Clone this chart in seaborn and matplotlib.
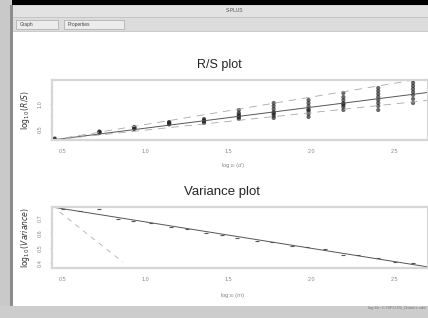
import numpy as np
import pandas as pd
import seaborn as sns
import matplotlib.pyplot as plt
from matplotlib.patches import Rectangle

# R/S plot: log10(d) positions and the R/S values at each block size
rs_x = [0.45, 0.72, 0.93, 1.14, 1.35, 1.56, 1.77, 1.98, 2.19, 2.40, 2.61]
rs_y = [
    [0.29, 0.30, 0.31],
    [0.42, 0.44, 0.45, 0.44],
    [0.50, 0.52, 0.54, 0.53, 0.51],
    [0.59, 0.61, 0.63, 0.64, 0.62],
    [0.62, 0.64, 0.66, 0.68, 0.70, 0.65],
    [0.70, 0.73, 0.76, 0.79, 0.82, 0.88, 0.75],
    [0.72, 0.76, 0.80, 0.84, 0.90, 0.96, 1.02, 0.82],
    [0.74, 0.80, 0.85, 0.90, 0.96, 1.02, 1.08, 0.88],
    [0.88, 0.94, 0.98, 1.02, 1.08, 1.14, 1.22, 1.00],
    [0.88, 0.96, 1.02, 1.08, 1.14, 1.20, 1.26, 1.32],
    [1.02, 1.10, 1.18, 1.24, 1.30, 1.36, 1.42, 1.48],
]
rs_origin = (0.434, 0.28)
rs_fit_slope = 0.42
rs_ref_slopes = [0.55, 0.35]

# Variance plot
var_x = [0.50, 0.60, 0.72, 0.83, 0.92, 1.03, 1.15, 1.25, 1.36, 1.46, 1.55,
         1.67, 1.76, 1.88, 1.97, 2.08, 2.19, 2.28, 2.40, 2.50, 2.61]
var_y = [0.760, 0.747, 0.760, 0.693, 0.680, 0.667, 0.640, 0.627, 0.600, 0.587, 0.567,
         0.547, 0.540, 0.513, 0.507, 0.493, 0.453, 0.453, 0.433, 0.407, 0.400]
var_origin = (0.434, 0.773)
var_fit_slope = -0.176
var_ref_start = (0.48, 0.74)
var_ref_end_x = 0.86
var_ref_slope = -0.877

xticks = [0.5, 1.0, 1.5, 2.0, 2.5]
xlabels = ['0.5', '1.0', '1.5', '2.0', '2.5']
rs_yticks = [0.5, 0.75, 1.0, 1.25]
rs_ylabels = ['0.5', '', '1.0', '']
var_yticks = [0.4, 0.5, 0.6, 0.7]
var_ylabels = ['0.4', '0.5', '0.6', '0.7']

xlim = (0.434, 2.70)

sns.set_style('white')
plt.rcParams['font.family'] = ['Liberation Sans', 'DejaVu Sans']

W, H = 428, 318
fig = plt.figure(figsize=(W / 100, H / 100), dpi=100)


def box(x, y, w, h, **kw):
    # rectangle in screen pixels (top-left origin)
    fig.add_artist(Rectangle((x / W, 1 - (y + h) / H), w / W, h / H,
                             transform=fig.transFigure, **kw))


def ftext(x, y, s, **kw):
    fig.text(x / W, 1 - y / H, s, **kw)


# window chrome
box(0, 0, W, 5, color='black', lw=0)
box(0, 5, W, 12, facecolor='#e2e2e2', edgecolor='#c8c8c8', lw=0.5)
box(0, 17, W, 14, facecolor='#dcdcdc', edgecolor='#bdbdbd', lw=0.5)
box(0, 0, 12, H, facecolor='#c9c9c9', lw=0)
box(10, 5, 2.5, H, facecolor='#8c8c8c', lw=0)
box(0, 306, W, 12, facecolor='#cdcdcd', lw=0)
box(16, 20, 42, 9, facecolor='#ececec', edgecolor='#a8a8a8', lw=0.5)
box(64, 20, 60, 9, facecolor='#ececec', edgecolor='#a8a8a8', lw=0.5)
ftext(235, 11, 'S-PLUS', fontsize=3.5, color='#555555', ha='center', va='center')
ftext(20, 24.5, 'Graph', fontsize=3.5, color='#444444', va='center')
ftext(68, 24.5, 'Properties', fontsize=3.5, color='#444444', va='center')
ftext(426, 308, 'log file: C:\\SPLUS\\_Data\\rs.sdd', fontsize=3, color='#777777',
      ha='right', va='center')

ax1 = fig.add_axes([52 / W, 1 - 140 / H, 376 / W, 60 / H])
ax2 = fig.add_axes([52 / W, 1 - 268 / H, 376 / W, 61 / H])

# R/S points
rs_df = pd.DataFrame([(x, y) for x, ys in zip(rs_x, rs_y) for y in ys], columns=['x', 'y'])
sns.scatterplot(data=rs_df, x='x', y='y', ax=ax1, color='#2a2a2a', s=9,
                edgecolor='none', alpha=0.7, legend=False)
xs = np.array(xlim)
sns.lineplot(x=xs, y=rs_origin[1] + rs_fit_slope * (xs - rs_origin[0]), ax=ax1,
             color='#555555', lw=0.7)
for s in rs_ref_slopes:
    sns.lineplot(x=xs, y=rs_origin[1] + s * (xs - rs_origin[0]), ax=ax1,
                 color='#a8a8a8', lw=0.6, dashes=(9, 7))
ax1.set_ylim(0.28, 1.48)

# variance points
sns.scatterplot(x=var_x, y=var_y, ax=ax2, color='#555555', s=6, marker='_',
                linewidth=0.8, legend=False)
sns.lineplot(x=xs, y=var_origin[1] + var_fit_slope * (xs - var_origin[0]), ax=ax2,
             color='#555555', lw=0.7)
rx = np.array([var_ref_start[0], var_ref_end_x])
sns.lineplot(x=rx, y=var_ref_start[1] + var_ref_slope * (rx - var_ref_start[0]), ax=ax2,
             color='#b0b0b0', lw=0.6, dashes=(6, 6))
ax2.set_ylim(0.367, 0.773)

for ax, yt, yl in [(ax1, rs_yticks, rs_ylabels), (ax2, var_yticks, var_ylabels)]:
    ax.set_xlim(*xlim)
    ax.set_xticks(xticks)
    ax.set_xticklabels(xlabels)
    ax.set_yticks(yt)
    ax.set_yticklabels(yl, rotation=90, va='center')
    ax.tick_params(labelsize=4, labelcolor='#8a8a8a', length=1.5, width=0.5,
                   color='#bbbbbb', pad=5, left=True, bottom=False)
    for sp in ax.spines.values():
        sp.set_color('#d6d6d6')
        sp.set_linewidth(1.6)
    ax.set_xlabel('')
    ax.set_ylabel('')

ax1.set_ylabel(r'$\log_{10}(R/S)$', fontsize=5.5, color='#333333', labelpad=4)
ax2.set_ylabel(r'$\log_{10}(\mathit{Variance})$', fontsize=5.5, color='#333333', labelpad=4)

ftext(219, 65, 'R/S plot', fontsize=9, ha='center', va='center')
ftext(222, 192, 'Variance plot', fontsize=9.5, ha='center', va='center')
ftext(233, 166, r'$\log_{10}(d)$', fontsize=4, color='#888888', ha='center', va='center')
ftext(233, 295, r'$\log_{10}(m)$', fontsize=4, color='#888888', ha='center', va='center')

fig.savefig('out.png', dpi=100)
